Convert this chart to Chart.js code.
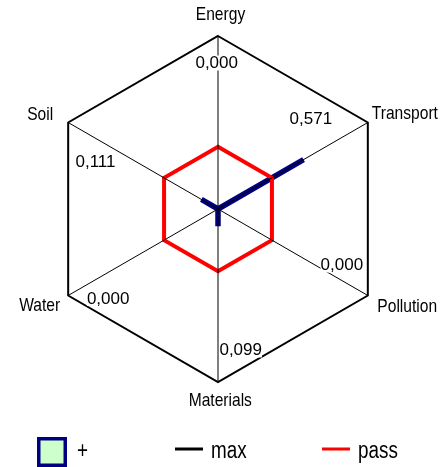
<!DOCTYPE html>
<html><head><meta charset="utf-8">
<script src="https://cdn.jsdelivr.net/npm/chart.js@4/dist/chart.umd.min.js"></script>
<style>html,body{margin:0;padding:0;background:#fff;overflow:hidden}#wrap{width:444px;height:467px;position:relative}</style>
</head><body><div id="wrap"><canvas id="c"></canvas></div>
<script>
// ---- data ----
const categories = ['Energy', 'Transport', 'Pollution', 'Materials', 'Water', 'Soil'];
const seriesValues = [0, 0.571, 0, 0.099, 0, 0.111];
const maxValues = [1, 1, 1, 1, 1, 1];
const passValues = [0.36, 0.36, 0.36, 0.36, 0.36, 0.36];
const seriesNames = ['+', 'max', 'pass'];

// ---- styling / placement (not data) ----
const NARROW = 0.82;
const axisLabelOffsets = [
  {dx: 2.5, dy: -16, align: 'center'},
  {dx: 4, dy: -4, align: 'left'},
  {dx: 9.5, dy: 16.5, align: 'left'},
  {dx: 2.3, dy: 23.7, align: 'center'},
  {dx: -8, dy: 15, align: 'right'},
  {dx: -15, dy: -3, align: 'right'}
];
const valueLabelOffsets = [
  {dx: -1.3, dy: 32}, {dx: -57, dy: 1}, {dx: -26, dy: -25.5},
  {dx: 22.7, dy: -27}, {dx: 40, dy: 8}, {dx: 27.3, dy: 44}
];
const legendX = [37, 175, 322];

function narrowText(ctx, text, x, y, align, size) {
  ctx.save();
  ctx.font = size + 'px "Liberation Sans", Arial, sans-serif';
  ctx.textBaseline = 'alphabetic';
  ctx.textAlign = 'left';
  const w = ctx.measureText(text).width * NARROW;
  const left = align === 'center' ? x - w / 2 : (align === 'right' ? x - w : x);
  ctx.translate(left, y);
  ctx.scale(NARROW, 1);
  ctx.fillStyle = '#000';
  ctx.fillText(text, 0, 0);
  ctx.restore();
}

const labelsPlugin = {
  id: 'radarLabels',
  afterDraw(chart) {
    const scale = chart.scales.r;
    const ctx = chart.ctx;
    const outer = scale.getDistanceFromCenterForValue(scale.max);
    categories.forEach((name, i) => {
      const p = scale.getPointPosition(i, outer);
      const o = axisLabelOffsets[i];
      narrowText(ctx, name, p.x + o.dx, p.y + o.dy, o.align, 19);
      // value label
      const txt = seriesValues[i].toFixed(3).replace('.', ',');
      const v = valueLabelOffsets[i];
      ctx.save();
      ctx.font = '17px "Liberation Sans", Arial, sans-serif';
      ctx.textAlign = 'center';
      ctx.textBaseline = 'alphabetic';
      const m = ctx.measureText(txt);
      const w = m.width;
      const cx = p.x + v.dx, by = p.y + v.dy;
      ctx.fillStyle = '#fff';
      ctx.fillRect(cx - w / 2, by - m.actualBoundingBoxAscent - 0.5, w, m.actualBoundingBoxAscent + m.actualBoundingBoxDescent + 1);
      ctx.fillStyle = '#000';
      ctx.fillText(txt, cx, by);
      ctx.restore();
    });
    // legend
    chart.data.datasets.forEach((ds, i) => {
      const x = legendX[i];
      ctx.save();
      let textX;
      if (ds.fill) {
        ctx.fillStyle = ds.backgroundColor;
        ctx.fillRect(x, 437, 30, 30);
        ctx.strokeStyle = ds.borderColor;
        ctx.lineWidth = 3.5;
        ctx.strokeRect(x + 1.75, 438.75, 26.5, 26.5);
        textX = x + 40;
      } else {
        ctx.strokeStyle = ds.borderColor;
        ctx.lineWidth = 3;
        ctx.beginPath();
        ctx.moveTo(x, 449);
        ctx.lineTo(x + 28, 449);
        ctx.stroke();
        textX = x + 36;
      }
      ctx.restore();
      narrowText(ctx, ds.label, textX, 458, 'left', 23);
    });
  }
};

new Chart(document.getElementById('c'), {
  type: 'radar',
  data: {
    labels: categories,
    datasets: [
      {label: seriesNames[0], data: seriesValues, borderColor: '#000080', backgroundColor: '#ccffcc',
       borderWidth: 5.5, fill: true, order: 3, pointRadius: 0},
      {label: seriesNames[1], data: maxValues, borderColor: '#000000', backgroundColor: 'rgba(0,0,0,0)',
       borderWidth: 2, fill: false, order: 2, pointRadius: 0},
      {label: seriesNames[2], data: passValues, borderColor: '#ff0000', backgroundColor: 'rgba(0,0,0,0)',
       borderWidth: 4, fill: false, order: 1, pointRadius: 0}
    ]
  },
  options: {
    responsive: true,
    maintainAspectRatio: false,
    animation: false,
    devicePixelRatio: 1,
    layout: {padding: {left: 45, right: 53, top: 36, bottom: 84}},
    plugins: {legend: {display: false}, tooltip: {enabled: false}},
    elements: {line: {tension: 0}, point: {radius: 0, hoverRadius: 0}},
    scales: {
      r: {
        min: 0, max: 1,
        ticks: {display: false},
        grid: {display: false, z: 1},
        angleLines: {display: true, color: '#000', lineWidth: 1},
        pointLabels: {display: false}
      }
    }
  },
  plugins: [labelsPlugin]
});
</script>
</body></html>
